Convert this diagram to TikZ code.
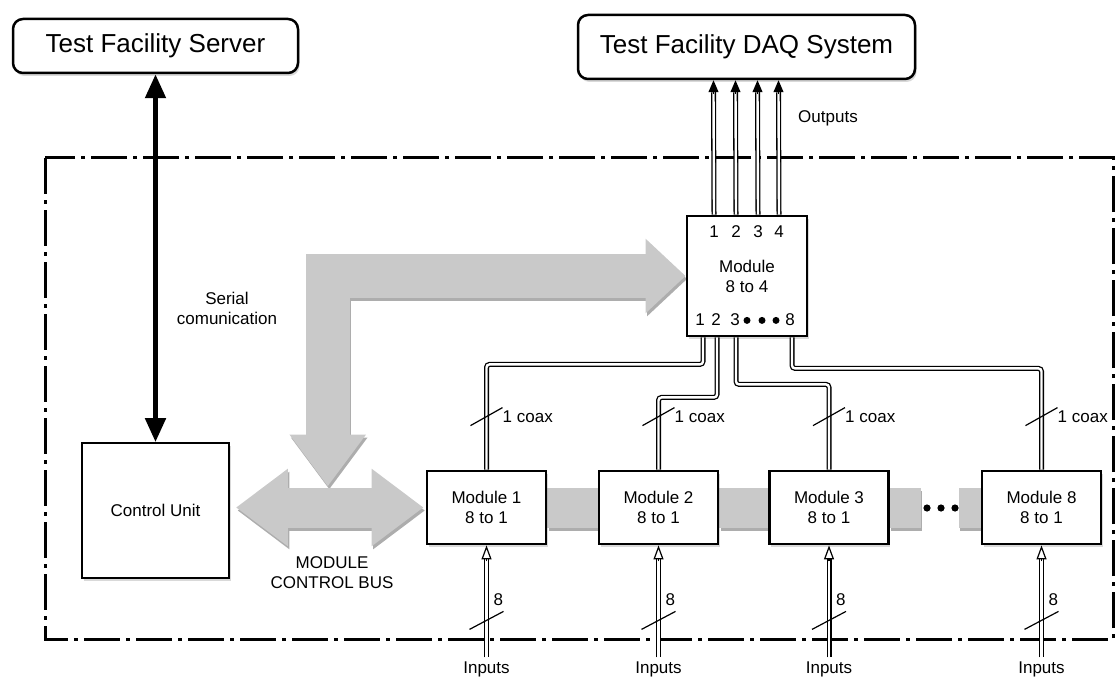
\documentclass[tikz,border=0pt]{standalone}
\usepackage{fontspec}
\setmainfont{Liberation Sans}
\usetikzlibrary{arrows.meta,calc,shadows,backgrounds}
\definecolor{busgray}{RGB}{201,201,201}
\begin{document}
\begin{tikzpicture}[x=1pt,y=-1pt, every node/.style={font=\fontsize{17}{20}\selectfont}]
  \tikzstyle{shad}=[drop shadow={shadow xshift=1.5pt,shadow yshift=-3pt,opacity=.3}]
  \tikzstyle{rbox}=[draw,fill=white,rounded corners=10pt,line width=2.5pt,shad,font=\fontsize{26}{30}\selectfont]
  \tikzstyle{modbox}=[draw,fill=white,line width=2.8pt,shad,align=center,minimum width=119pt,minimum height=73pt]
  \tikzstyle{dbl}=[double=white,double distance=2.4pt,line width=1.3pt]
  \tikzstyle{intip}=[-{Triangle[open,fill=white,length=14pt,width=10pt]},line width=1.2pt]
  \tikzstyle{outtip}=[-{Triangle[length=12pt,width=10pt]},line width=1.2pt]
  \tikzstyle{slash}=[line width=1.2pt]
  \tikzstyle{bus}=[line width=40pt,draw=busgray]
  \tikzstyle{busshadow}=[draw=black!32,transform canvas={shift={(1.5pt,-3pt)}}]
  \tikzstyle{hbus}=[bus,{Triangle[length=52pt,width=74pt]}-{Triangle[length=52pt,width=74pt]},shorten <=6pt,shorten >=2pt]
  \tikzstyle{lbus}=[line width=44pt,draw=busgray,{Triangle[length=52pt,width=73pt]}-{Triangle[length=40pt,width=72pt]},shorten <=21pt]
  \useasboundingbox (0,0) rectangle (1115,679);
  \node[rbox,minimum width=285pt,minimum height=54pt] (srv) at (155.5,46) {Test Facility Server};
  \node[rbox,minimum width=337pt,minimum height=64pt] (daq) at (746.5,47) {Test Facility DAQ System};
  \node[draw,fill=white,line width=1.8pt,shad,minimum width=147pt,minimum height=135pt] (cu) at (155.5,510.5) {Control Unit};
  \node[modbox,minimum width=120pt,minimum height=120pt] (m84) at (747,276) {Module\\8 to 4};
  \node[modbox] (m1) at (486.5,507.5) {Module 1\\8 to 1};
  \node[modbox] (m2) at (658.5,507.5) {Module 2\\8 to 1};
  \node[modbox] (m3) at (829,507.5) {Module 3\\8 to 1};
  \node[modbox] (m8) at (1041.5,507.5) {Module 8\\8 to 1};
  \coordinate (busmid) at ($(m1.west -| cu.east)!0.5!(m1.west)$);
  \begin{pgfonlayer}{background}
    \draw[line width=3pt,dash pattern=on 36pt off 6pt on 4pt off 6pt] (45,158) rectangle (1113,639);
    \draw[bus,busshadow] (m1.east) -- (m2.west);
    \draw[bus,busshadow] (m2.east) -- (m3.west);
    \draw[bus,busshadow] (m3.east) -- ($(m3.east)+(31,0)$);
    \draw[bus,busshadow] (m8.west) -- ($(m8.west)+(-22,0)$);
    \draw[bus] (m1.east) -- (m2.west);
    \draw[bus] (m2.east) -- (m3.west);
    \draw[bus] (m3.east) -- ($(m3.east)+(31,0)$);
    \draw[bus] (m8.west) -- ($(m8.west)+(-22,0)$);
    \draw[hbus,busshadow] (m1.west -| cu.east) -- (m1.west);
    \draw[lbus,busshadow] (busmid) |- (m84.west);
    \draw[hbus] (m1.west -| cu.east) -- (m1.west);
    \draw[lbus] (busmid) |- (m84.west);
  \end{pgfonlayer}
  \foreach \x in {927,941,955} \fill (\x,508) circle (3.6);
  \draw[line width=5pt,{Triangle[length=24pt,width=20pt]}-{Triangle[length=24pt,width=20pt]}] (srv.south) -- (cu.north);
  \node[align=center] (serial) at (227,308) {Serial\\comunication};
  \node[align=center] (mcb) at (332,573) {MODULE\\CONTROL BUS};
  \node (outs) at (828,118) {Outputs};
  \foreach \p/\dx in {1/-33,2/-11,3/11,4/32} {
    \node (o\p) at ($(m84.north)+(\dx,17)$) {\p};
    \draw[dbl] ($(m84.north)+(\dx,0)$) -- ($(daq.south)+(\dx,12)$);
    \draw[outtip] ($(daq.south)+(\dx,14)$) -- ($(daq.south)+(\dx,0)$);
  }
  \foreach \p/\dx in {1/-47,2/-31,3/-12,8/43} \node (i\p) at ($(m84.south)+(\dx,-18)$) {\p};
  \foreach \dx in {0,15,29} \fill ($(m84.south)+(\dx,-17)$) circle (3.5);
  \draw[dbl,rounded corners=3pt] ($(m84.south)+(-44,0)$) -- ++(0,27) -| (m1.north);
  \draw[dbl,rounded corners=3pt] ($(m84.south)+(-30,0)$) -- ++(0,60) -| (m2.north);
  \draw[dbl,rounded corners=3pt] ($(m84.south)+(-11,0)$) -- ++(0,47) -| (m3.north);
  \draw[dbl,rounded corners=3pt] ($(m84.south)+(45,0)$) -- ++(0,31) -| (m8.north);
  \foreach \i in {1,2,3,8} {
    \node (in\i) at ($(m\i.south)+(0,124)$) {Inputs};
    \draw[dbl] ($(m\i.south)+(0,112)$) -- ($(m\i.south)+(0,14)$);
    \draw[intip] ($(m\i.south)+(0,16)$) -- (m\i.south);
    \draw[slash] ($(m\i.south)+(-17,84)$) -- ++(34,-18);
    \node[anchor=west,inner sep=1pt] (w\i) at ($(m\i.south)+(6,54)$) {8};
    \draw[slash] ($(m\i.north)+(-16,-44)$) -- ++(32,-18);
    \node[anchor=west,inner sep=1pt] (c\i) at ($(m\i.north)+(15,-53)$) {1 coax};
  }
\end{tikzpicture}
\end{document}
